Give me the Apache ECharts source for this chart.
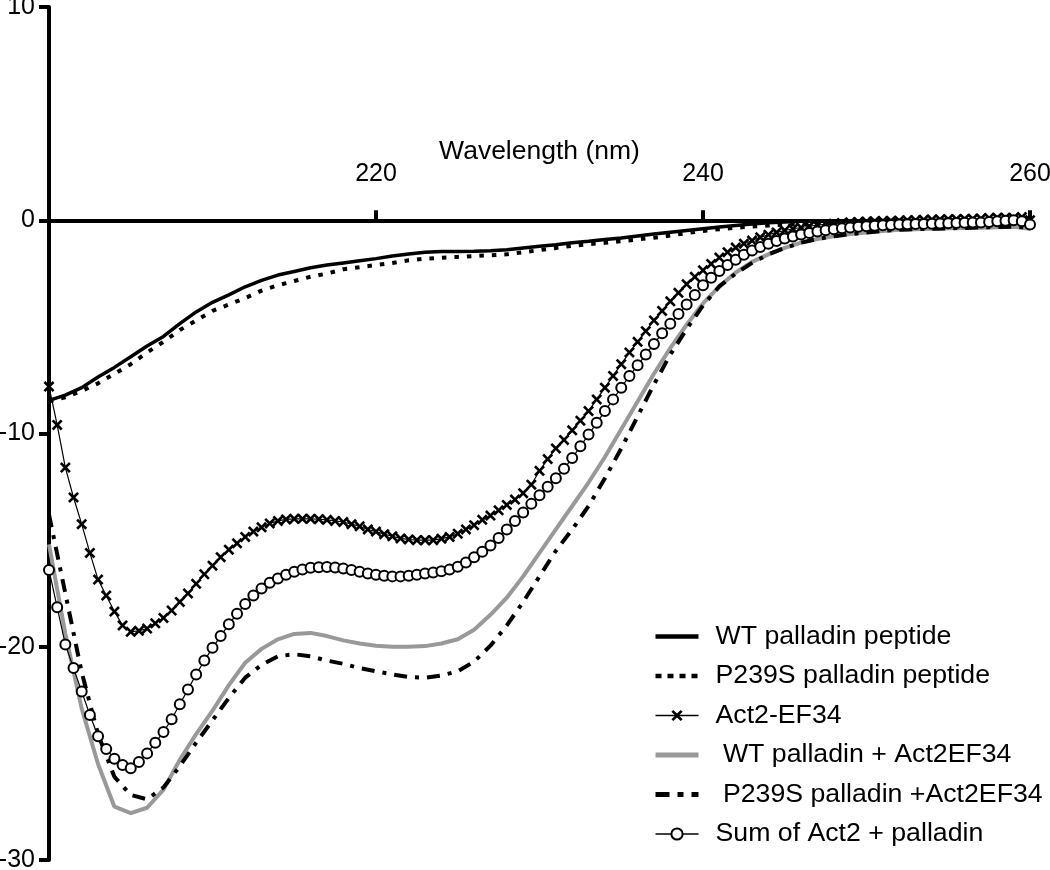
<!DOCTYPE html>
<html>
<head>
<meta charset="utf-8">
<script src="https://cdn.jsdelivr.net/npm/echarts@6/dist/echarts.min.js"></script>
<style>
html,body{margin:0;padding:0;background:#fff;}
#c{width:1050px;height:870px;}
</style>
</head>
<body>
<div id="c"></div>
<script>
// wavelengths (nm)
const wlStep1 = [];
for (let w = 200; w <= 260; w += 1) wlStep1.push(w);
const wlStepHalf = [];
for (let k = 0; k <= 120; k++) wlStepHalf.push(200 + k * 0.5);

const seriesNames = ['WT palladin peptide', 'P239S palladin peptide', 'Act2-EF34', ' WT palladin + Act2EF34', ' P239S palladin +Act2EF34', 'Sum of Act2 + palladin'];
const xTickLabels = ['', '220', '240', '260'];

// 1 nm resolution
const wtPeptide = [-8.45,-8.2,-7.85,-7.35,-6.9,-6.4,-5.9,-5.45,-4.85,-4.3,
  -3.85,-3.5,-3.12,-2.82,-2.57,-2.4,-2.23,-2.1,-2.0,-1.9,
  -1.8,-1.68,-1.58,-1.5,-1.47,-1.46,-1.45,-1.43,-1.38,-1.3,
  -1.22,-1.15,-1.05,-0.98,-0.9,-0.83,-0.74,-0.65,-0.56,-0.48,
  -0.4,-0.32,-0.25,-0.18,-0.12,-0.08,-0.05,-0.04,-0.03,-0.02,
  -0.02,-0.01,-0.01,-0.01,0,0,0,-0.01,-0.02,-0.03,-0.1];
const p239sPeptide = [-8.5,-8.3,-8.0,-7.65,-7.2,-6.75,-6.2,-5.7,-5.15,-4.7,
  -4.25,-3.95,-3.65,-3.3,-3.05,-2.85,-2.65,-2.5,-2.3,-2.2,
  -2.1,-2.0,-1.88,-1.8,-1.76,-1.72,-1.68,-1.64,-1.6,-1.5,
  -1.4,-1.3,-1.2,-1.12,-1.06,-0.98,-0.9,-0.82,-0.72,-0.6,
  -0.5,-0.42,-0.35,-0.3,-0.25,-0.2,-0.18,-0.16,-0.14,-0.12,
  -0.1,-0.09,-0.08,-0.07,-0.06,-0.06,-0.05,-0.05,-0.05,-0.05,-0.05];
const wtComplex = [-15.2,-19.4,-22.9,-25.5,-27.5,-27.8,-27.55,-26.7,-25.3,-24.1,
  -23.0,-21.8,-20.75,-20.1,-19.65,-19.4,-19.35,-19.5,-19.7,-19.85,
  -19.95,-20.0,-20.0,-19.97,-19.85,-19.65,-19.2,-18.5,-17.7,-16.7,
  -15.6,-14.5,-13.4,-12.3,-11.1,-9.8,-8.5,-7.2,-6.0,-4.9,
  -3.9,-3.1,-2.45,-1.95,-1.6,-1.3,-1.05,-0.88,-0.75,-0.65,
  -0.57,-0.5,-0.45,-0.42,-0.4,-0.38,-0.36,-0.35,-0.33,-0.3,-0.4];
const p239sComplex = [-13.8,-17.5,-21.2,-24.1,-26.1,-26.95,-27.15,-26.6,-25.6,-24.5,
  -23.45,-22.4,-21.45,-20.85,-20.45,-20.35,-20.45,-20.65,-20.8,-21.0,
  -21.15,-21.3,-21.42,-21.45,-21.35,-21.15,-20.7,-19.95,-19.0,-17.9,
  -16.7,-15.5,-14.5,-13.4,-12.1,-10.7,-9.2,-7.7,-6.3,-5.1,
  -4.0,-3.1,-2.5,-2.0,-1.6,-1.3,-1.05,-0.88,-0.75,-0.65,
  -0.57,-0.5,-0.45,-0.42,-0.4,-0.38,-0.36,-0.34,-0.32,-0.3,-0.35];

// 0.5 nm resolution
const act2 = [-7.8,-9.6,-11.6,-13.0,-14.25,-15.6,-16.85,-17.6,-18.35,-19.0,
  -19.3,-19.25,-19.15,-18.9,-18.65,-18.3,-17.9,-17.5,-17.05,-16.6,
  -16.2,-15.8,-15.45,-15.15,-14.85,-14.6,-14.4,-14.22,-14.1,-14.03,
  -14.0,-14.0,-14.0,-14.02,-14.05,-14.1,-14.15,-14.25,-14.35,-14.5,
  -14.6,-14.72,-14.82,-14.92,-14.97,-15.0,-15.0,-15.0,-14.93,-14.85,
  -14.7,-14.5,-14.3,-14.05,-13.85,-13.6,-13.35,-13.1,-12.8,-12.4,
  -11.75,-11.2,-10.7,-10.3,-9.85,-9.4,-8.95,-8.4,-7.85,-7.3,
  -6.75,-6.2,-5.7,-5.2,-4.7,-4.25,-3.8,-3.4,-3.0,-2.65,
  -2.35,-2.05,-1.75,-1.5,-1.28,-1.1,-0.95,-0.8,-0.68,-0.57,
  -0.48,-0.4,-0.34,-0.28,-0.23,-0.19,-0.16,-0.13,-0.1,-0.08,
  -0.06,-0.05,-0.04,-0.03,-0.02,0.0,0.0,0.02,0.03,0.04,
  0.05,0.05,0.06,0.07,0.08,0.1,0.12,0.12,0.1,0.15,0.0];
const sumCurve = [-16.4,-18.15,-19.9,-21.0,-22.1,-23.2,-24.2,-24.8,-25.25,-25.55,
  -25.7,-25.4,-25.0,-24.5,-24.0,-23.4,-22.7,-22.0,-21.3,-20.65,
  -20.05,-19.5,-18.95,-18.45,-18.0,-17.6,-17.27,-17.0,-16.8,-16.62,
  -16.48,-16.38,-16.3,-16.27,-16.26,-16.28,-16.33,-16.4,-16.48,-16.56,
  -16.62,-16.67,-16.7,-16.7,-16.67,-16.62,-16.57,-16.52,-16.46,-16.38,
  -16.25,-16.05,-15.8,-15.55,-15.25,-14.9,-14.5,-14.1,-13.7,-13.3,
  -12.9,-12.5,-12.1,-11.65,-11.15,-10.6,-10.05,-9.5,-8.95,-8.4,
  -7.85,-7.3,-6.8,-6.3,-5.8,-5.3,-4.85,-4.4,-3.95,-3.5,
  -3.05,-2.7,-2.38,-2.1,-1.85,-1.62,-1.42,-1.25,-1.1,-0.97,
  -0.86,-0.76,-0.67,-0.6,-0.53,-0.47,-0.42,-0.38,-0.34,-0.31,
  -0.28,-0.26,-0.24,-0.22,-0.2,-0.19,-0.18,-0.17,-0.16,-0.15,
  -0.14,-0.13,-0.12,-0.11,-0.1,-0.08,-0.05,-0.02,0.0,-0.05,-0.2];

function pairs(xs, ys) { return xs.map((x, i) => [x, ys[i]]); }

const FONT = 'Liberation Sans';
const crossPath = 'path://M0,1.7L1.7,0L5,3.3L8.3,0L10,1.7L6.7,5L10,8.3L8.3,10L5,6.7L1.7,10L0,8.3L3.3,5Z';

const GRID_TOP = 7, GRID_BOTTOM = 10, Y_MIN = -30, Y_MAX = 10;
const plotH = 870 - GRID_TOP - GRID_BOTTOM;
const zeroOffset = -plotH * Y_MAX / (Y_MAX - Y_MIN); // puts the top x axis on y = 0

const chart = echarts.init(document.getElementById('c'), null, {renderer: 'canvas'});
chart.setOption({
  animation: false,
  backgroundColor: '#ffffff',
  grid: {left: 49, right: 20, top: GRID_TOP, bottom: GRID_BOTTOM, containLabel: false, outerBoundsMode: 'none'},
  xAxis: {
    type: 'value', min: 200, max: 260, interval: 20,
    position: 'top', offset: zeroOffset,
    name: 'Wavelength (nm)', nameLocation: 'middle', nameGap: 55, nameMoveOverlap: false,
    nameTextStyle: {fontFamily: FONT, fontSize: 26.5, color: '#000'},
    axisLine: {onZero: false, lineStyle: {color: '#000', width: 4}},
    axisTick: {show: true, length: 10, lineStyle: {color: '#000', width: 4}},
    axisLabel: {fontFamily: FONT, fontSize: 25, color: '#000', margin: 34, showMinLabel: false,
      formatter: (v) => xTickLabels[Math.round((v - 200) / 20)]},
    splitLine: {show: false}
  },
  yAxis: {
    type: 'value', min: Y_MIN, max: Y_MAX, interval: 10,
    axisLine: {onZero: false, lineStyle: {color: '#000', width: 4}},
    axisTick: {show: true, length: 10, lineStyle: {color: '#000', width: 4}},
    axisLabel: {fontFamily: FONT, fontSize: 25, color: '#000', margin: 14},
    splitLine: {show: false}
  },
  legend: {
    orient: 'vertical', left: 653, top: 623, padding: 0,
    itemWidth: 43, itemHeight: 14, itemGap: 12.5,
    textStyle: {fontFamily: FONT, fontSize: 26.7, color: '#000', padding: [0, 0, 0, 12]},
    data: [
      {name: seriesNames[0], itemStyle: {opacity: 0}, lineStyle: {width: 4.5}},
      {name: seriesNames[1], itemStyle: {opacity: 0}, lineStyle: {width: 4.5, type: [6, 6]}},
      {name: seriesNames[2], lineStyle: {width: 1.5}},
      {name: seriesNames[3], itemStyle: {opacity: 0}, lineStyle: {width: 5}},
      {name: seriesNames[4], itemStyle: {opacity: 0}, lineStyle: {width: 5, type: [14, 8, 6, 8]}},
      {name: seriesNames[5], lineStyle: {width: 1.5}}
    ]
  },
  series: [
    {name: seriesNames[3], type: 'line', data: pairs(wlStep1, wtComplex), symbol: 'none',
      lineStyle: {color: '#999999', width: 4}, itemStyle: {color: '#999999'}, z: 2},
    {name: seriesNames[4], type: 'line', data: pairs(wlStep1, p239sComplex), symbol: 'none',
      lineStyle: {color: '#000', width: 4, type: [13, 8, 4, 8]}, itemStyle: {color: '#000'}, z: 2},
    {name: seriesNames[0], type: 'line', data: pairs(wlStep1, wtPeptide), symbol: 'none',
      lineStyle: {color: '#000', width: 3.5}, itemStyle: {color: '#000'}, z: 3},
    {name: seriesNames[1], type: 'line', data: pairs(wlStep1, p239sPeptide), symbol: 'none',
      lineStyle: {color: '#000', width: 4, type: [4.5, 8]}, itemStyle: {color: '#000'}, z: 3},
    {name: seriesNames[2], type: 'line', data: pairs(wlStepHalf, act2),
      symbol: crossPath, symbolSize: 11, showAllSymbol: true,
      lineStyle: {color: '#000', width: 1.2}, itemStyle: {color: '#000'}, z: 4},
    {name: seriesNames[5], type: 'line', data: pairs(wlStepHalf, sumCurve),
      symbol: 'emptyCircle', symbolSize: 10, showAllSymbol: true,
      lineStyle: {color: '#000', width: 1.2}, itemStyle: {color: '#000', borderColor: '#000', borderWidth: 2.8}, z: 4}
  ]
});
</script>
</body>
</html>
